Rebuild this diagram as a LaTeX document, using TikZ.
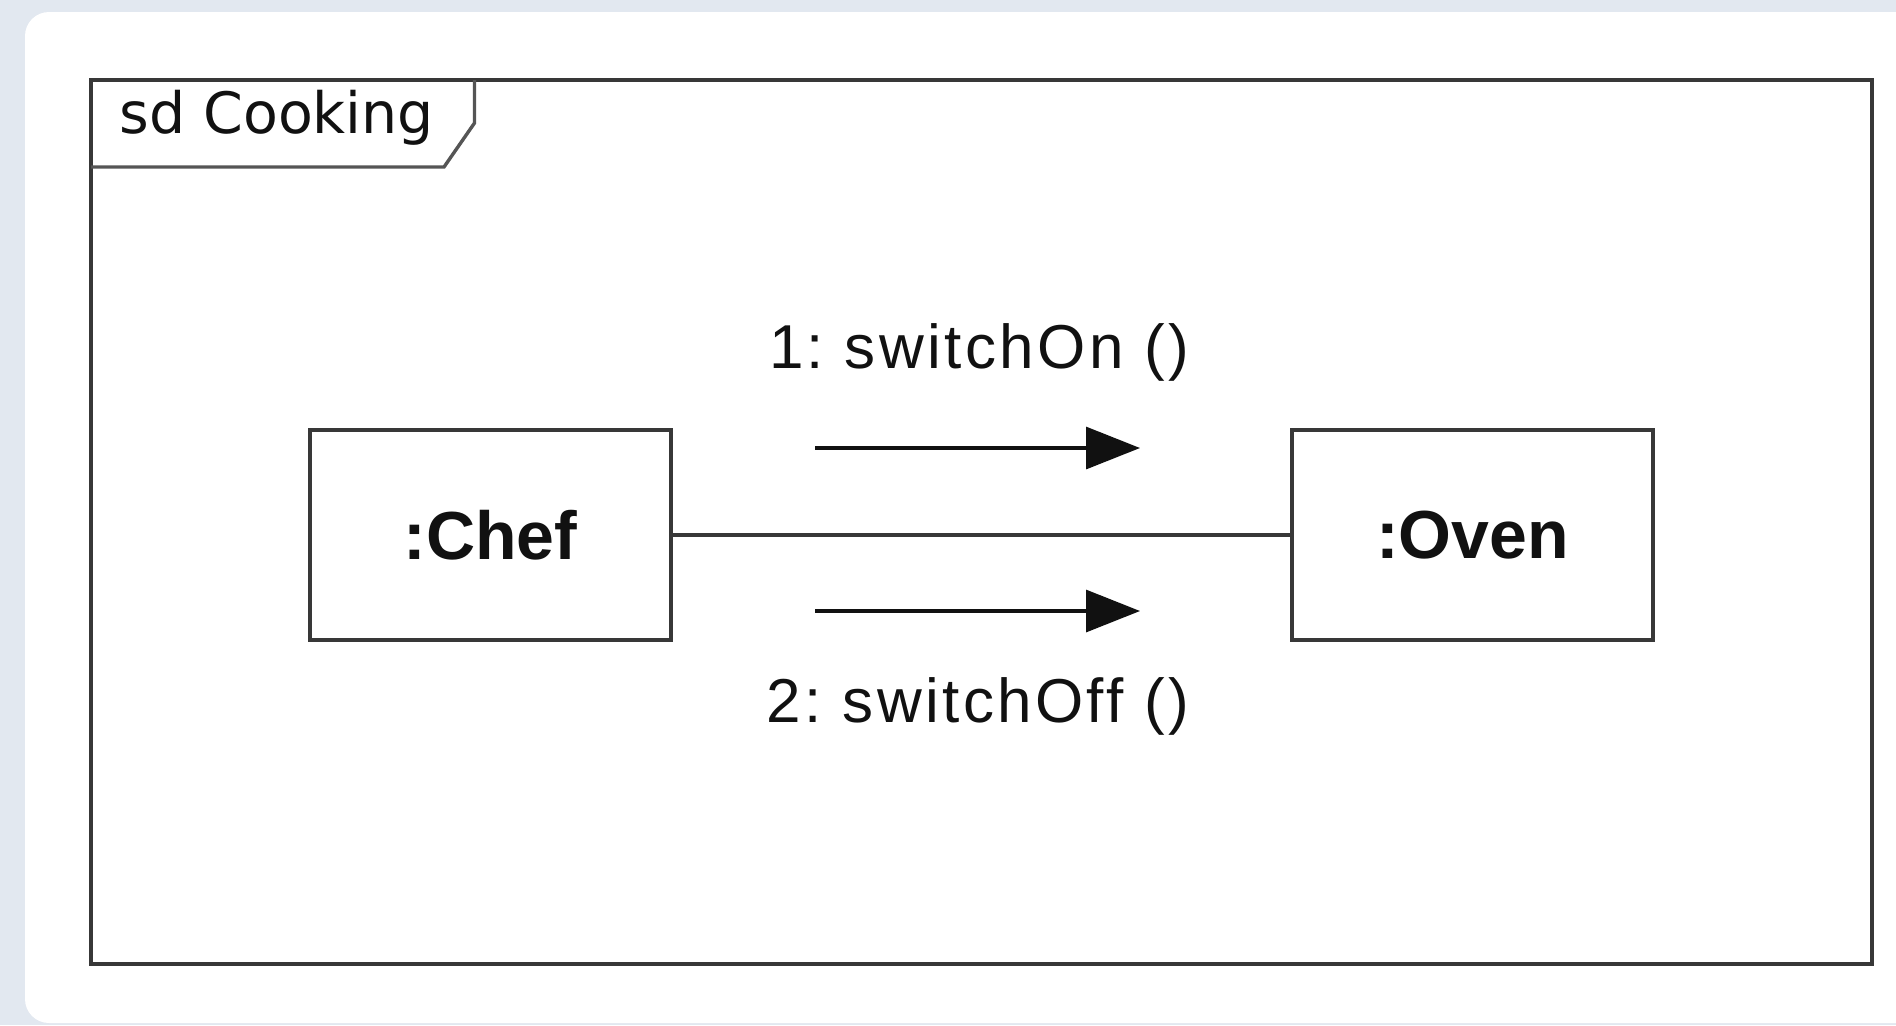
\documentclass[tikz,border=0pt]{standalone}
\usepackage{fontspec}
\setmainfont{Liberation Sans}
\newfontfamily\tabfont{DejaVu Sans}
\newfontfamily\labelfont[LetterSpace=5.5]{Liberation Sans}
\usetikzlibrary{arrows.meta}

\definecolor{pagebg}{HTML}{E2E8F0}
\definecolor{framecol}{HTML}{383838}
\definecolor{tabcol}{HTML}{555555}
\definecolor{inkcol}{HTML}{111111}

\tikzset{
  objbox/.style={draw=framecol, line width=2.2pt, fill=white,
    minimum width=180.5pt, minimum height=105pt, inner sep=0pt,
    font=\fontsize{34}{40}\selectfont\bfseries, text=inkcol},
  link/.style={draw=framecol, line width=1.8pt},
  msgarrow/.style={draw=inkcol, line width=1.6pt,
    -{Triangle[length=27pt,width=21pt]}},
  msglabel/.style={anchor=base, inner sep=0pt,
    font=\labelfont\frenchspacing\fontsize{31}{36}\selectfont, text=inkcol},
  framebox/.style={draw=framecol, line width=1.8pt},
  tabline/.style={draw=tabcol, line width=1.7pt}
}

\begin{document}
\begin{tikzpicture}[x=0.5pt,y=-0.5pt]
  % page background and card
  \useasboundingbox (0,0) rectangle (1896,1025);
  \fill[pagebg] (0,0) rectangle (1896,1025);
  \fill[white, rounded corners=12pt] (25,12) rectangle (1920,1023);

  % interaction frame
  \draw[framebox] (91,80) rectangle (1872,964);
  % name tab
  \draw[tabline] (91,167) -- (444,167) -- (474.5,123) -- (474.5,80);
  \node[anchor=base west, inner sep=0pt, text=inkcol,
        font=\tabfont\fontsize{28.5}{34}\selectfont] (title) at (119,133) {sd Cooking};

  % lifelines as objects
  \node[objbox] (chef) at (490.5,535) {:Chef};
  \node[objbox] (oven) at (1472.5,535) {:Oven};
  \draw[link] (chef) -- (oven);

  % messages
  \coordinate (m1s) at (815,448);
  \coordinate (m1e) at (1140,448);
  \coordinate (m2s) at (815,611);
  \coordinate (m2e) at (1140,611);
  \draw[msgarrow] (m1s) -- (m1e);
  \draw[msgarrow] (m2s) -- (m2e);
  \node[msglabel] (l1) at (979,368) {1: switchOn ()};
  \node[msglabel] (l2) at (978,722) {2: switchOff ()};
\end{tikzpicture}
\end{document}
